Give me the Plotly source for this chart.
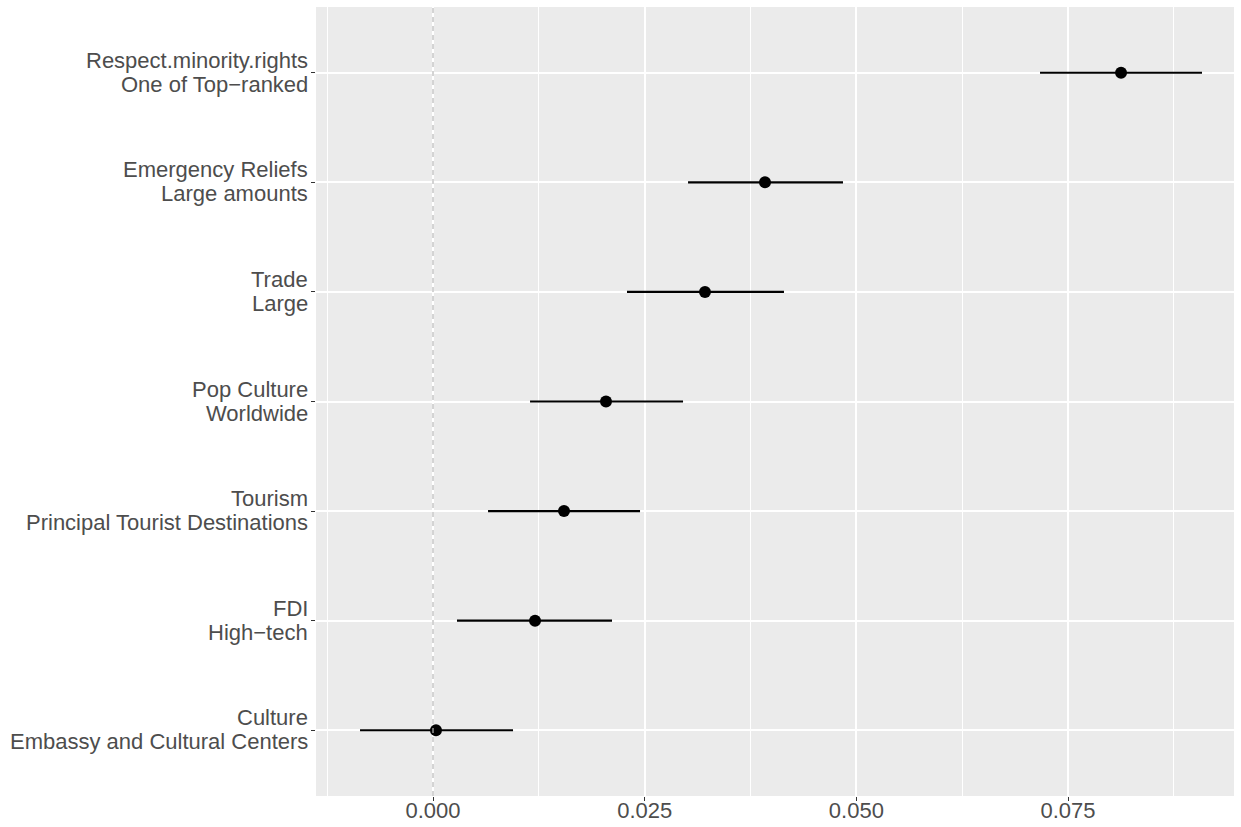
import plotly.graph_objects as go

# Data (bottom to top)
label_top = ["Culture", "FDI", "Tourism", "Pop Culture", "Trade",
             "Emergency Reliefs", "Respect.minority.rights"]
label_bottom = ["Embassy and Cultural Centers", "High−tech", "Principal Tourist Destinations",
                "Worldwide", "Large", "Large amounts", "One of Top−ranked"]
estimate = [0.00035, 0.01205, 0.01547, 0.02043, 0.03212, 0.03921, 0.08126]
lower = [-0.00862, 0.00283, 0.00650, 0.01146, 0.02291, 0.03012, 0.07169]
upper = [0.00945, 0.02114, 0.02445, 0.02953, 0.04145, 0.04842, 0.09082]
x_ticks = [0.000, 0.025, 0.050, 0.075]
x_ticklabels = ["0.000", "0.025", "0.050", "0.075"]

ypos = list(range(len(label_top)))
err_plus = [u - e for u, e in zip(upper, estimate)]
err_minus = [e - l for e, l in zip(estimate, lower)]

font = "Liberation Sans, Arial, Helvetica, sans-serif"
FS = 22
TXT = "#4D4D4D"

fig = go.Figure()
fig.add_trace(go.Scatter(
    x=estimate, y=ypos, mode="markers",
    marker=dict(color="black", size=12),
    error_x=dict(type="data", symmetric=False, array=err_plus, arrayminus=err_minus,
                 color="black", thickness=2.2, width=0),
    showlegend=False, hoverinfo="skip",
))

fig.add_shape(type="line", xref="x", yref="paper", x0=0, x1=0, y0=0, y1=1,
              line=dict(color="#B8B8B8", width=1.2, dash="5px,4px"), layer="above")

# two-line y tick labels, placed on the y scale
for yp, t1, t2 in zip(ypos, label_top, label_bottom):
    fig.add_annotation(xref="paper", yref="y", x=0, y=yp, text=t1, showarrow=False,
                       xanchor="right", yanchor="middle", xshift=-6, yshift=12.5,
                       font=dict(family=font, size=FS, color=TXT))
    fig.add_annotation(xref="paper", yref="y", x=0, y=yp, text=t2, showarrow=False,
                       xanchor="right", yanchor="middle", xshift=-6, yshift=-11.5,
                       font=dict(family=font, size=FS, color=TXT))

fig.update_layout(
    width=1241, height=827,
    margin=dict(l=316, r=7, t=7, b=31),
    paper_bgcolor="white", plot_bgcolor="#EBEBEB",
    font=dict(family=font, size=FS, color=TXT),
    xaxis=dict(
        range=[-0.01382, 0.0946], tickvals=x_ticks, ticktext=x_ticklabels,
        showgrid=True, gridcolor="white", gridwidth=2,
        minor=dict(showgrid=True, gridcolor="white", gridwidth=1, dtick=0.0125, tick0=0),
        ticks="outside", ticklen=4, tickwidth=1, tickcolor="#333333",
        zeroline=False, showline=False, automargin=False, ticklabelstandoff=-9,
        tickfont=dict(family=font, size=FS, color=TXT),
    ),
    yaxis=dict(
        range=[-0.6, 6.6], tickvals=ypos, showticklabels=False,
        showgrid=True, gridcolor="white", gridwidth=2,
        ticks="outside", ticklen=4, tickwidth=1, tickcolor="#333333",
        zeroline=False, showline=False, automargin=False,
    ),
)

fig.write_html("out.html")
